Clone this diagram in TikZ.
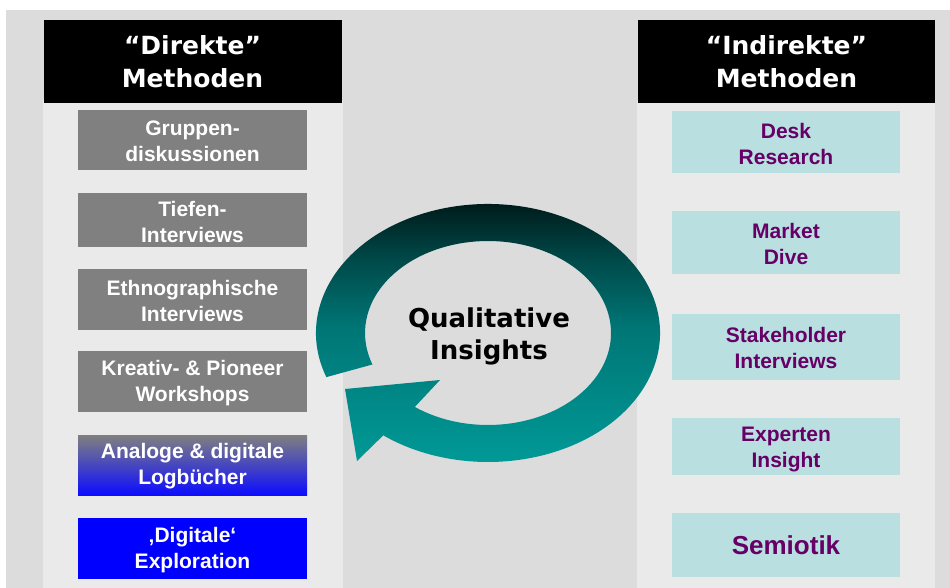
\documentclass[tikz,border=0pt]{standalone}
\usepackage{fontspec}
\setmainfont{Liberation Sans}
\newfontfamily\headfont{DejaVu Sans}
\usetikzlibrary{calc}

\definecolor{pagegray}{RGB}{220,220,220}
\definecolor{colgray}{RGB}{234,234,234}
\definecolor{boxgray}{RGB}{128,128,128}
\definecolor{boxteal}{RGB}{185,223,224}
\definecolor{plum}{RGB}{102,0,102}
\definecolor{ringB}{RGB}{0,155,152}
\definecolor{ringM}{RGB}{0,118,118}
\definecolor{ringQ}{RGB}{0,74,74}
\definecolor{ringT}{RGB}{0,14,14}

% vertical shading of the cycle arrow: dark at the top, teal at the bottom
\pgfdeclareverticalshading{ringshade}{100bp}{color(0bp)=(ringB); color(25bp)=(ringB); color(50bp)=(ringM); color(62bp)=(ringQ); color(75bp)=(ringT); color(100bp)=(ringT)}

\begin{document}
\begin{tikzpicture}[x=1pt,y=-1pt,
  colhead/.style={fill=black, text=white, inner sep=0pt, align=center,
    font=\headfont\bfseries\fontsize{25}{33}\selectfont,
    minimum width=298pt, minimum height=83pt},
  boxtext/.style={inner sep=0pt, align=center,
    font=\bfseries\fontsize{21}{26}\selectfont},
  leftbox/.style={fill=boxgray, text=white, minimum width=229pt},
  rightbox/.style={fill=boxteal, text=plum, minimum width=228pt},
  lefttext/.style={boxtext, text=white},
  righttext/.style={boxtext, text=plum}]

\useasboundingbox (0,0) rectangle (950,588);
\fill[white] (0,0) rectangle (950,588);
\fill[pagegray] (6,10) rectangle (950,588);

% the two method columns
\fill[colgray] (43,100) rectangle (343,588);
\fill[colgray] (637,100) rectangle (935,588);

\node[colhead] (hdir) at (192.5,62) {“Direkte”\\Methoden};
\node[colhead, minimum width=297pt] (hind) at (786.5,62) {“Indirekte”\\Methoden};

% direct methods: box, then its text set slightly below the box centre
\node[leftbox, minimum height=60pt] (l1) at (192.5,140) {};
\node[lefttext] (l1t) at ([yshift=-1.5pt]l1.center) {Gruppen-\\diskussionen};
\node[leftbox, minimum height=54pt] (l2) at (192.5,220) {};
\node[lefttext] (l2t) at ([yshift=-1.5pt]l2.center) {Tiefen-\\Interviews};
\node[leftbox, minimum height=61pt] (l3) at (192.5,299.5) {};
\node[lefttext] (l3t) at ([yshift=-1.5pt]l3.center) {Ethnographische\\Interviews};
\node[leftbox, minimum height=61pt] (l4) at (192.5,381.5) {};
\node[lefttext] (l4t) at ([yshift=-1.5pt]l4.center) {Kreativ- \& Pioneer\\Workshops};
\node[leftbox, minimum height=60pt, top color=boxgray, bottom color=blue!95!white] (l5) at (192.5,465) {};
\node[lefttext] (l5t) at ([yshift=-1.5pt]l5.center) {Analoge \& digitale\\Logbücher};
\node[leftbox, minimum height=61pt, fill=blue] (l6) at (192.5,548.5) {};
\node[lefttext] (l6t) at ([yshift=-1.5pt]l6.center) {‚Digitale‘\\Exploration};

% indirect methods
\node[rightbox, minimum height=62pt] (r1) at (786,142) {};
\node[righttext] (r1t) at ([yshift=-1.5pt]r1.center) {Desk\\Research};
\node[rightbox, minimum height=63pt] (r2) at (786,242.5) {};
\node[righttext] (r2t) at ([yshift=-1.5pt]r2.center) {Market\\Dive};
\node[rightbox, minimum height=66pt] (r3) at (786,346.5) {};
\node[righttext] (r3t) at ([yshift=-1.5pt]r3.center) {Stakeholder\\Interviews};
\node[rightbox, minimum height=57pt] (r4) at (786,446.5) {};
\node[righttext] (r4t) at ([yshift=-2.5pt]r4.center) {Experten\\Insight};
\node[rightbox, minimum height=64pt] (r5) at (786,545) {};
\node[righttext, font=\bfseries\fontsize{26}{30}\selectfont] (r5t) at (r5.center) {Semiotik};

% cycle arrow around the centre
\coordinate (c) at (488,333);
\shade[shading=ringshade]
  ($(c)+(160:172 and 129)$)
  arc[start angle=160, end angle=487.5, x radius=172, y radius=129]
  -- (357,461) -- (345,389) -- (440,380)
  -- ($(c)+(486.5:123 and 92)$)
  arc[start angle=486.5, end angle=160, x radius=123, y radius=92]
  -- cycle;

\node[align=center, font=\headfont\bfseries\fontsize{26}{32}\selectfont] (qi) at (489,336) {Qualitative\\Insights};
\end{tikzpicture}
\end{document}
